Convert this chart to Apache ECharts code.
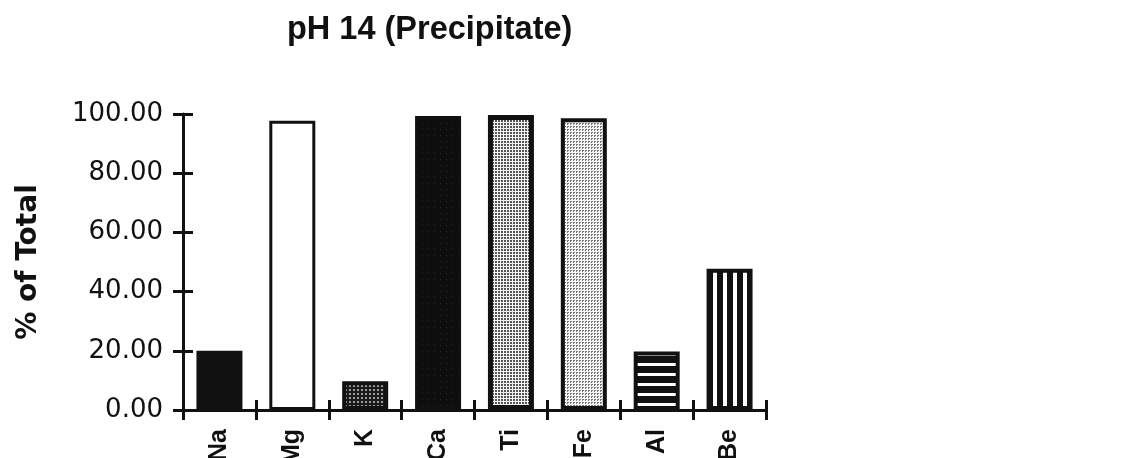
<!DOCTYPE html>
<html>
<head>
<meta charset="utf-8">
<script src="https://cdn.jsdelivr.net/npm/echarts@6/dist/echarts.min.js"></script>
<style>
html,body{margin:0;padding:0;background:#fff;}
#chart{width:1122px;height:458px;}
</style>
</head>
<body>
<div id="chart"></div>
<script>
// ---- data ----
const categories = ['Na', 'Mg', 'K', 'Ca', 'Ti', 'Fe', 'Al', 'Be'];
const values = [20.0, 97.7, 9.7, 99.3, 99.7, 98.6, 19.8, 47.7];
const yMin = 0;
const yMax = 100;
const yInterval = 20;
const titleText = 'pH 14 (Precipitate)';
const yName = '% of Total';

// ---- fill patterns (style only) ----
function pattern(w, h, draw) {
  const c = document.createElement('canvas');
  c.width = w; c.height = h;
  const ctx = c.getContext('2d');
  draw(ctx);
  return { image: c, repeat: 'repeat' };
}
const fills = [
  '#111111',
  '#ffffff',
  pattern(4, 4, ctx => { ctx.fillStyle = '#1a1a1a'; ctx.fillRect(0,0,4,4); ctx.fillStyle = '#9a9a9a'; ctx.fillRect(1,1,2,2); }),
  pattern(6, 6, ctx => { ctx.fillStyle = '#0e0e0e'; ctx.fillRect(0,0,6,6); ctx.fillStyle = '#262626'; ctx.fillRect(2,3,1,1); }),
  pattern(3, 3, ctx => { ctx.fillStyle = '#f4f4f4'; ctx.fillRect(0,0,3,3); ctx.fillStyle = '#555'; ctx.fillRect(0,0,2,2); }),
  pattern(3, 3, ctx => { ctx.fillStyle = '#f6f6f6'; ctx.fillRect(0,0,3,3); ctx.fillStyle = '#7a7a7a'; ctx.fillRect(0,0,2,1); ctx.fillRect(0,1,1,1); }),
  pattern(4, 10, ctx => { ctx.fillStyle = '#111'; ctx.fillRect(0,0,4,10); ctx.fillStyle = '#fff'; ctx.fillRect(0,3,4,3); }),
  pattern(10, 4, ctx => { ctx.fillStyle = '#111'; ctx.fillRect(0,0,10,4); ctx.fillStyle = '#fff'; ctx.fillRect(3,0,4,4); })
];
const borders = [3, 3, 4, 3, 5, 4, 4, 4];

const ink = '#111111';
const chart = echarts.init(document.getElementById('chart'), null, { renderer: 'canvas' });

const axisLineStyle = { color: ink, width: 3 };

const option = {
  animation: false,
  backgroundColor: '#ffffff',
  title: {
    text: titleText,
    left: 287,
    top: 14,
    padding: 0,
    textStyle: { fontFamily: 'Liberation Sans', fontWeight: 'bold', fontSize: 32.5, color: ink }
  },
  grid: { left: 183, right: 356, top: 114, bottom: 48, containLabel: false, outerBoundsMode: 'none' },
  xAxis: [
    {
      type: 'category',
      data: categories,
      position: 'bottom',
      boundaryGap: true,
      axisLine: { show: true, lineStyle: axisLineStyle },
      axisTick: { show: true, length: 10, lineStyle: { color: ink, width: 3 } },
      axisLabel: { rotate: 90, margin: 19, fontFamily: 'Liberation Sans', fontWeight: 'bold', fontSize: 25, color: ink, interval: 0 },
      splitLine: { show: false }
    },
    {
      type: 'category',
      data: categories,
      position: 'bottom',
      boundaryGap: true,
      axisLine: { show: false },
      axisTick: { show: true, inside: true, length: 10, lineStyle: { color: ink, width: 3 } },
      axisLabel: { show: false },
      splitLine: { show: false }
    }
  ],
  yAxis: [
    {
      type: 'value',
      min: yMin, max: yMax, interval: yInterval,
      position: 'left',
      name: yName,
      nameLocation: 'middle',
      nameRotate: 90,
      nameGap: 140,
      nameTextStyle: { fontFamily: 'DejaVu Sans', fontWeight: 'bold', fontSize: 28, color: ink },
      axisLine: { show: true, lineStyle: axisLineStyle },
      axisTick: { show: true, length: 10, lineStyle: { color: ink, width: 3 } },
      axisLabel: { margin: 20, formatter: v => v.toFixed(2), fontFamily: 'DejaVu Sans', fontSize: 26, color: ink },
      splitLine: { show: false }
    },
    {
      type: 'value',
      min: yMin, max: yMax, interval: yInterval,
      position: 'left',
      axisLine: { show: false },
      axisTick: { show: true, inside: true, length: 10, lineStyle: { color: ink, width: 3 } },
      axisLabel: { show: false },
      splitLine: { show: false }
    }
  ],
  series: [
    {
      type: 'bar',
      xAxisIndex: 0,
      yAxisIndex: 0,
      barWidth: 46,
      data: values.map((v, i) => ({
        value: v,
        itemStyle: { color: fills[i], borderColor: ink, borderWidth: borders[i] }
      }))
    }
  ]
};
chart.setOption(option);
</script>
</body>
</html>
